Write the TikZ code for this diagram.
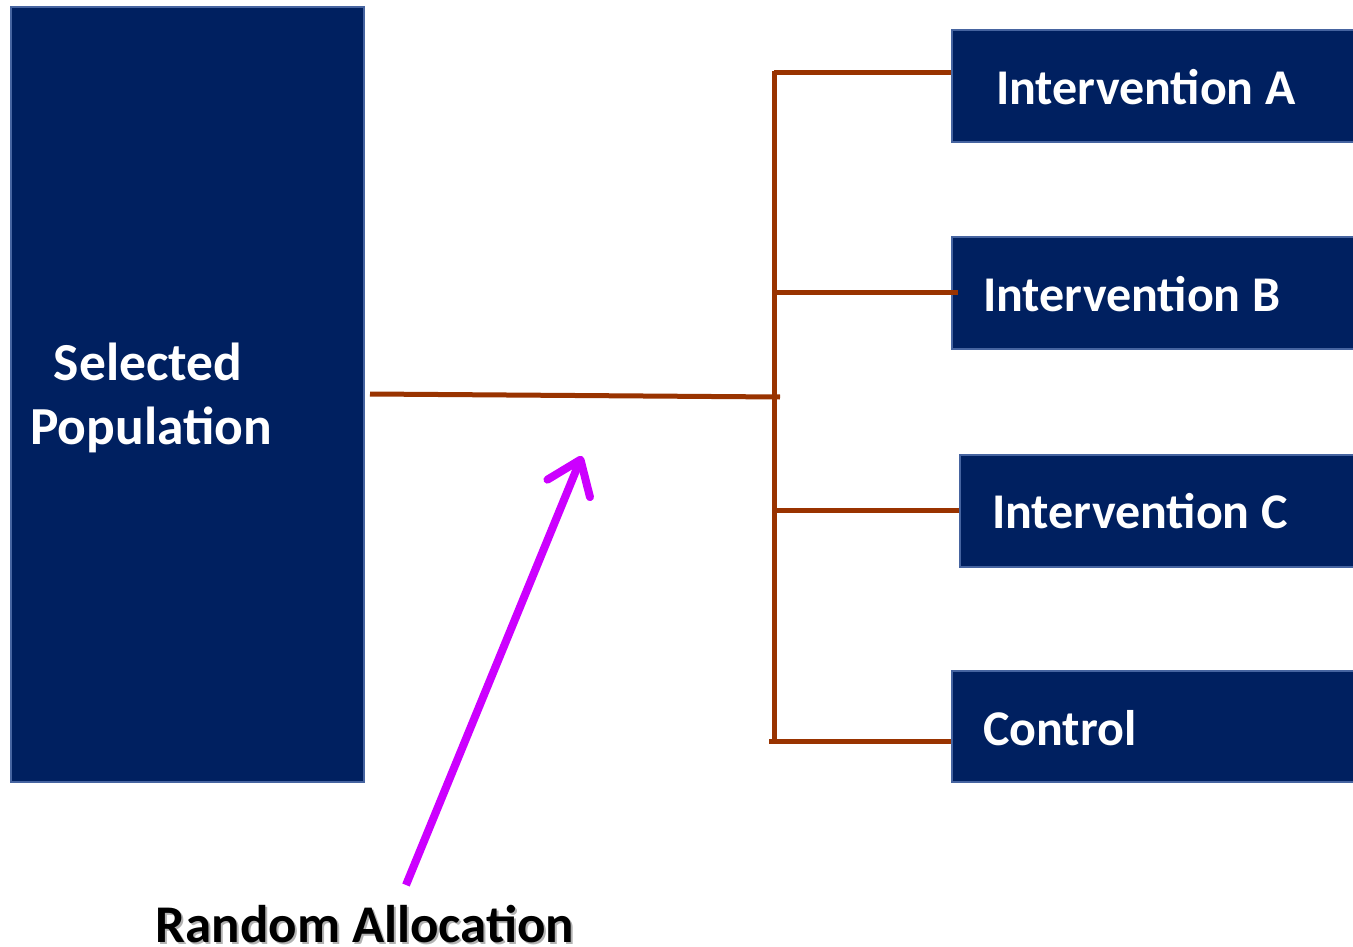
\documentclass[tikz,border=0pt]{standalone}
\usepackage{fontspec}
\setmainfont{Carlito}
\usetikzlibrary{arrows.meta}
\definecolor{navy}{RGB}{0,32,96}
\definecolor{navyedge}{RGB}{70,100,160}
\definecolor{rust}{RGB}{153,51,0}
\definecolor{violet}{RGB}{204,0,255}
\tikzset{
  panel/.style={fill=navy, draw=navyedge, line width=2pt, inner sep=0pt, anchor=north west},
  armlabel/.style={text=white, font=\fontsize{50}{56}\selectfont\bfseries, anchor=base west, inner sep=0pt},
  poplabel/.style={text=white, font=\fontsize{53.5}{60}\selectfont\bfseries, anchor=base, inner sep=0pt},
  link/.style={draw=rust, line width=5pt},
  pointer/.style={draw=violet, line width=8pt,
    -{Straight Barb[length=31pt, width=46pt, line cap=round, line join=round]}},
  captionfont/.style={font=\fontsize{53}{60}\selectfont\bfseries, anchor=base, inner sep=0pt},
}
\begin{document}
\begin{tikzpicture}[x=1pt, y=-1pt]
\useasboundingbox (0,0) rectangle (1353,947);

% source population
\node[panel, minimum width=353pt, minimum height=775pt] (pop) at (10,6) {};
\node[poplabel] (popA) at (148,380) {Selected};
\node[poplabel] (popB) at (151,444) {Population};

% study arms
\node[panel, minimum width=410pt, minimum height=112pt] (armA) at (951,29) {};
\node[panel, minimum width=410pt, minimum height=112pt] (armB) at (951,236) {};
\node[panel, minimum width=402pt, minimum height=112pt] (armC) at (959,454) {};
\node[panel, minimum width=410pt, minimum height=111pt] (ctrl) at (951,670) {};

\node[armlabel] (labA) at (996,105) {Intervention A};
\node[armlabel] (labB) at (983,311) {Intervention B};
\node[armlabel] (labC) at (992,528) {Intervention C};
\node[armlabel] (labD) at (983,745) {Control};

% allocation tree
\coordinate (hub) at (780,397);
\coordinate (trunkTop) at (774,71);
\coordinate (trunkBot) at (774,742);
\coordinate (tapA) at (774,73);
\coordinate (tapB) at (774,292);
\coordinate (tapC) at (774,510);
\coordinate (tapD) at (769,741);

\draw[link] (trunkTop) -- (trunkBot);
\draw[link] (pop.east |- 0,394) ++(5,0) -- (hub);
\draw[link] (tapA) -- (armA.west |- tapA);
\draw[link] (tapB) -- ([xshift=7pt]armB.west |- tapB);
\draw[link] (tapC) -- (armC.west |- tapC);
\draw[link] (tapD) -- (ctrl.west |- tapD);

% caption and pointer
\node[captionfont, text=black!30] at (367,944) {Random Allocation};
\node[captionfont] (caption) at (365,942) {Random Allocation};
\coordinate (tail) at (406,885);
\coordinate (head) at (582,456);
\draw[pointer] (tail) -- (head);
\end{tikzpicture}
\end{document}
